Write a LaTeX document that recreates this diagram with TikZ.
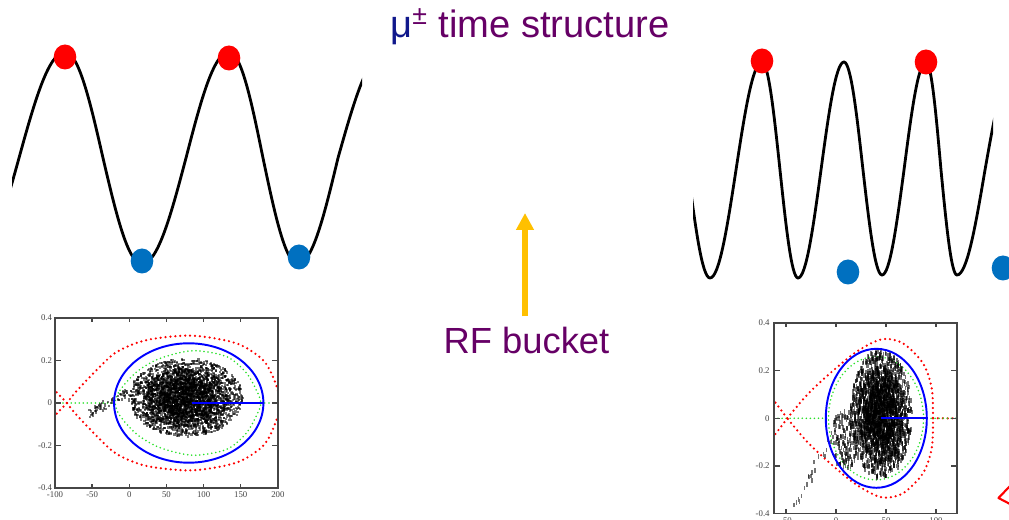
\documentclass[tikz,border=0pt]{standalone}
\usepackage{fontspec}
\setmainfont{Liberation Serif}
\setsansfont{Liberation Sans}
\usepackage{xcolor}
\usepackage{tikz}
\usetikzlibrary{arrows.meta,positioning,calc}

\definecolor{bucketpurple}{RGB}{102,0,102}
\definecolor{mublue}{RGB}{16,24,140}
\definecolor{dotred}{RGB}{255,0,0}
\definecolor{dotblue}{RGB}{0,112,192}
\definecolor{arrowgold}{RGB}{255,192,0}
\definecolor{framegray}{RGB}{70,70,70}
\definecolor{loopgreen}{RGB}{40,225,40}

\begin{document}
\begin{tikzpicture}[
            x=0.02cm, y=-0.02cm,
            every node/.style={inner sep=0pt},
            wave/.style={black, line width=1.6pt},
            frame/.style={draw=framegray, line width=0.8pt},
            ticklab/.style={font=\fontsize{5}{5}\selectfont\rmfamily, text=framegray},
            sepx/.style={dotred, line width=1.4pt, line cap=round, dash pattern=on 0pt off 2.8pt},
            greenloop/.style={loopgreen, line width=1pt, line cap=round, dash pattern=on 0pt off 2.3pt},
            orbit/.style={blue, line width=1.1pt},
            particle/.style={fill=black, fill opacity=0.55},
        ]
            \useasboundingbox (0,0) rectangle (1009,520);
            \fill[white] (0,0) rectangle (1009,520);
            \clip (0,0) rectangle (1009,520);

            \node[font=\fontsize{21.7}{24}\selectfont\sffamily, text=bucketpurple, anchor=base west] (title) at (390,37.3)
                {{\color{mublue}μ}\textsuperscript{±} time structure};

            % slow RF
            \begin{scope}
                \clip (12,0) rectangle (362,300);
                \draw[wave] (-27,264) cos (19,158) sin (65,52) cos (103,158) sin (142,264) cos (186,158) sin (229,52)
                    cos (263,158) sin (298,264) cos (338,158) sin (385,52);
            \end{scope}
            \fill[dotred] (65,57) ellipse [x radius=11.3, y radius=12.5];
            \fill[dotred] (229,58) ellipse [x radius=11.3, y radius=12.5];
            \fill[dotblue] (142,261) ellipse [x radius=11.3, y radius=12.5];
            \fill[dotblue] (299,257) ellipse [x radius=11.3, y radius=12.5];

            % fast RF
            \begin{scope}
                \clip (693,0) rectangle (993,300);
                \draw[wave] (664,62) cos (688,170) sin (710,278) cos (736,170) sin (762,62) cos (780,170) sin (798,278)
                    cos (821,170) sin (844,62) cos (863,170) sin (882,275) cos (904,170) sin (926,62)
                    cos (941,170) sin (957,275) cos (985,170) sin (1015,62);
            \end{scope}
            \fill[dotred] (762,61) ellipse [x radius=11.3, y radius=12.5];
            \fill[dotred] (926,62) ellipse [x radius=11.3, y radius=12.5];
            \fill[dotblue] (848,272) ellipse [x radius=11.3, y radius=12.5];
            \fill[dotblue] (1003,268) ellipse [x radius=11.3, y radius=12.5];

            \node[font=\fontsize{20.7}{22}\selectfont\sffamily, text=bucketpurple, anchor=base] (rfbucket) at (526.5,354) {RF bucket};
            \coordinate (bucketTip) at (525,213);
            \draw[arrowgold, line width=3.4pt, -{Triangle[width=9.6pt,length=9.6pt]}]
                ($(bucketTip |- rfbucket.north)+(0,-11)$) -- (bucketTip);

            % left phase space
            \begin{scope}[shift={(129.3,403)}, xscale=0.743, yscale=-212.5]
                \begin{scope}
                    \clip (-100,-0.4) rectangle (200,0.4);
                    \draw[greenloop] (-100,0) -- (-19,0) (177,0) -- (200,0);
                    \draw[greenloop] plot[smooth cycle] coordinates {(-19,0) (-12.6,0.06) (10,0.147) (41.3,0.21) (86,0.246)
                        (131,0.218) (158,0.14) (174,0.038) (177,0) (174,-0.038) (158,-0.14) (131,-0.218) (86,-0.246)
                        (41.3,-0.21) (10,-0.147) (-12.6,-0.06)};
                    \draw[sepx] (-84,0) -- (-106,0.08) (-84,0) -- (-106,-0.08);
                    \draw[sepx] plot[smooth] coordinates {(-84,0) (-71,0.056) (-44,0.155) (-17,0.24) (23,0.296) (84,0.317)
                        (144,0.281) (180,0.202) (196,0.1) (203,0) (196,-0.1) (180,-0.202) (144,-0.281) (84,-0.317)
                        (23,-0.296) (-17,-0.24) (-44,-0.155) (-71,-0.056) (-84,0)};
                \end{scope}
            \end{scope}
            \pgfmathsetseed{7}
            \foreach \s/\n in {1/1800,0.75/1300,0.5/700}{
                \foreach \i in {1,...,\n}{
                    \pgfmathsetmacro\pa{360*rnd}
                    \pgfmathsetmacro\pr{\s*sqrt(rnd)}
                    \fill[particle] ({185+57*\pr*cos(\pa)},{396.5+39*\pr*sin(\pa)}) rectangle +(2.2,2.2);
                }
            }
            \foreach \i in {1,...,60}{
                \pgfmathsetmacro\pt{rnd}
                \fill[particle] ({87+40*\pt+2*rand},{413-22*\pt+4*rand}) rectangle +(2.2,2.2);
            }
            \begin{scope}[shift={(129.3,403)}, xscale=0.743, yscale=-212.5]
                \draw[orbit] (80,0) ellipse [x radius=100.5, y radius=0.281];
                \draw[orbit] (84,0) -- (181,0);
                \draw[frame] (-100,-0.4) rectangle (200,0.4);
                \foreach \v in {-50,0,...,150}
                    \draw[frame] (\v,-0.4) -- (\v,-0.381) (\v,0.4) -- (\v,0.381);
                \foreach \v in {-0.2,0,0.2}
                    \draw[frame] (-100,\v) -- (-92,\v) (200,\v) -- (192,\v);
                \foreach \v [count=\k] in {0.4,0.2,0,-0.2,-0.4}
                    \node[ticklab, anchor=east, xshift=-1.5pt] (lyl\k) at (-100,\v) {\v};
                \foreach \v [count=\k] in {-100,-50,0,50,100,150,200}
                    \node[ticklab, anchor=north, yshift=-1.7pt] (lxl\k) at (\v,-0.4) {\v};
            \end{scope}

            % right phase space
            \begin{scope}[shift={(836,418.3)}, yscale=-238]
                \begin{scope}
                    \clip (-62,-0.4) rectangle (121,0.4);
                    \draw[sepx] (97,0) -- (121,0);
                    \draw[greenloop] (-62,0) -- (-8,0) (87,0) -- (121,0);
                    \draw[greenloop] (40,0) ellipse [x radius=47.5, y radius=0.259];
                    \draw[sepx] (-48.7,0) -- (-72,0.13) (-48.7,0) -- (-72,-0.13);
                    \draw[sepx] plot[smooth] coordinates {(-48.7,0) (-29,0.098) (-6,0.189) (20.7,0.28) (45.7,0.332)
                        (67,0.315) (87,0.231) (95.7,0.126) (97,0) (95.7,-0.126) (87,-0.231) (67,-0.315) (45.7,-0.332)
                        (20.7,-0.28) (-6,-0.189) (-29,-0.098) (-48.7,0)};
                \end{scope}
            \end{scope}
            \foreach \s/\n in {1/1300,0.75/900,0.5/500}{
                \foreach \i in {1,...,\n}{
                    \pgfmathsetmacro\pa{360*rnd}
                    \pgfmathsetmacro\pr{\s*sqrt(rnd)}
                    \fill[particle] ({880+31*\pr*cos(\pa)},{412+64*\pr*sin(\pa)}) rectangle +(1.6,4.4);
                }
            }
            \foreach \i in {1,...,150}{
                \pgfmathsetmacro\pa{360*rnd}
                \pgfmathsetmacro\pr{sqrt(rnd)}
                \fill[particle] ({844+14*\pr*cos(\pa)},{438+30*\pr*sin(\pa)}) rectangle +(1.6,4.4);
            }
            \foreach \i in {1,...,20}{
                \pgfmathsetmacro\pt{rnd}
                \fill[particle] ({794+35*\pt+3*rand},{504-66*\pt+4*rand}) rectangle +(1.6,4.4);
            }
            \begin{scope}[shift={(836,418.3)}, yscale=-238]
                \draw[orbit] (40.3,0) ellipse [x radius=50.5, y radius=0.292];
                \draw[orbit] (45,0) -- (90.8,0);
                \draw[frame] (-62,-0.4) rectangle (121,0.4);
                \foreach \v in {-50,0,50,100}
                    \draw[frame] (\v,-0.4) -- (\v,-0.383) (\v,0.4) -- (\v,0.383);
                \foreach \v in {-0.2,0,0.2}
                    \draw[frame] (-62,\v) -- (-56,\v) (121,\v) -- (115,\v);
                \foreach \v [count=\k] in {0.4,0.2,0,-0.2,-0.4}
                    \node[ticklab, anchor=east, xshift=-2.3pt] (lyr\k) at (-62,\v) {\v};
                \foreach \v [count=\k] in {-50,0,50,100}
                    \node[ticklab, anchor=north, yshift=-2pt] (lxr\k) at (\v,-0.4) {\v};
            \end{scope}

            \draw[dotred, line width=1.2pt, line cap=round, line join=round] (1010,486) -- (998.5,498) -- (1010,504);
        \end{tikzpicture}
\end{document}
